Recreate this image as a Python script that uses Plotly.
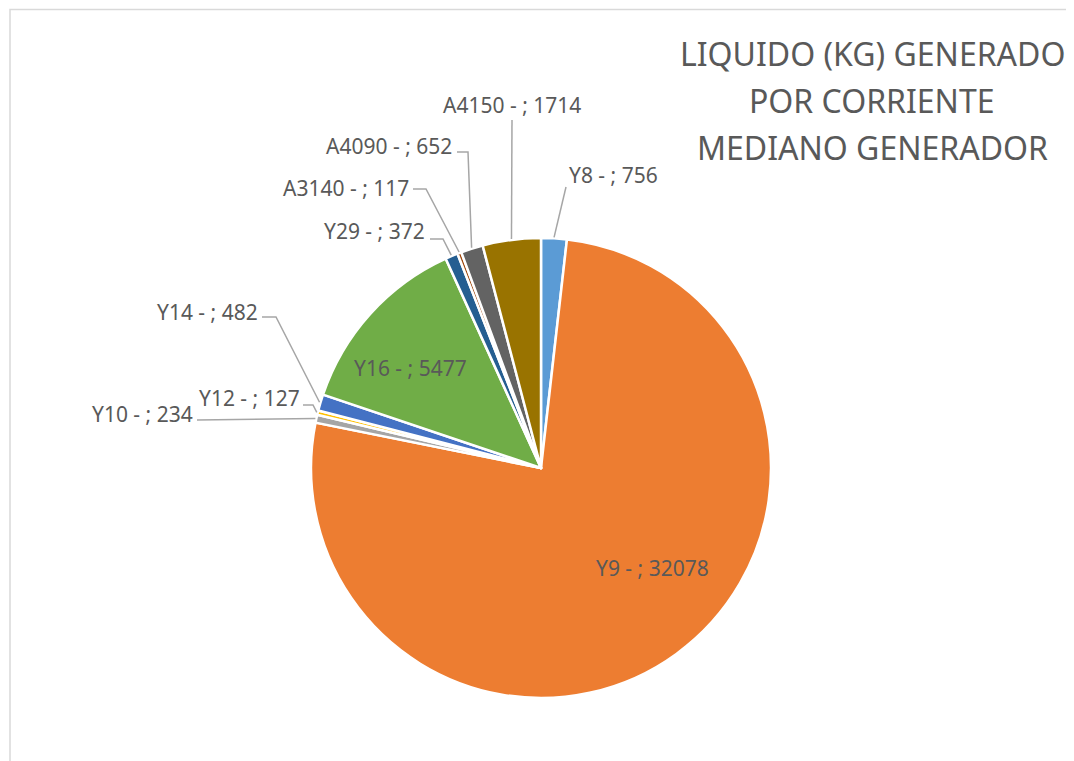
import math
import plotly.graph_objects as go

# ---- data ----
categories = ["Y8", "Y9", "Y10", "Y12", "Y14", "Y16", "Y29", "A3140", "A4090", "A4150"]
values = [756, 32078, 234, 127, 482, 5477, 372, 117, 652, 1714]
colors = ["#5B9BD5", "#ED7D31", "#A5A5A5", "#FFC000", "#4472C4",
          "#70AD47", "#255E91", "#9E480E", "#636363", "#997300"]
title_lines = ["LIQUIDO (KG) GENERADO", "POR CORRIENTE", "MEDIANO GENERADOR"]

# ---- layout (pixel, in screenshot coordinates) ----
W, H = 1074, 761
OFF = 8  # page body margin
CX, CY, R = 541, 468, 230
TXT = "#595959"
LINE = "#A6A6A6"
FONT = "Noto Sans"

def px(x):
    return (x - OFF) / W

def py(y):
    return 1 - (y - OFF) / H

# label placement: (x, y, xanchor, elbow points before slice edge) ; None -> inside label
label_layout = {
    "Y8":    dict(x=567, y=175, xa="left",   pts=[(566, 187)]),
    "Y9":    dict(x=652, y=568, xa="center", pts=None),
    "Y10":   dict(x=195, y=414, xa="right",  pts=[(197, 420)]),
    "Y12":   dict(x=302, y=398, xa="right",  pts=[(303, 405), (313, 405)]),
    "Y14":   dict(x=260, y=312, xa="right",  pts=[(262, 317), (276, 317)]),
    "Y16":   dict(x=410, y=368, xa="center", pts=None),
    "Y29":   dict(x=427, y=231, xa="right",  pts=[(430, 239), (443, 239)]),
    "A3140": dict(x=411, y=188, xa="right",  pts=[(413, 189), (426, 189)]),
    "A4090": dict(x=454, y=146, xa="right",  pts=[(457, 152), (468, 152)]),
    "A4150": dict(x=512, y=105, xa="center", pts=[(512, 120)]),
}

fig = go.Figure(go.Pie(
    labels=categories,
    values=values,
    marker=dict(colors=colors, line=dict(color="white", width=2.5)),
    sort=False,
    direction="clockwise",
    rotation=0,
    textinfo="none",
    showlegend=False,
    hoverinfo="label+value",
    domain=dict(x=[px(CX - R), px(CX + R)], y=[py(CY + R), py(CY - R)]),
))

annotations = []
shapes = []
total = sum(values)
cum = 0
for cat, val in zip(categories, values):
    mid = (cum + val / 2) / total * 2 * math.pi
    cum += val
    lay = label_layout[cat]
    annotations.append(dict(
        x=px(lay["x"]), y=py(lay["y"]), xref="paper", yref="paper",
        text=f"{cat} - ; {val}", showarrow=False,
        xanchor=lay["xa"], yanchor="middle",
        font=dict(family=FONT, size=21, color=TXT),
    ))
    if lay["pts"]:
        ex = CX + (R + 1) * math.sin(mid)
        ey = CY - (R + 1) * math.cos(mid)
        pts = lay["pts"] + [(ex, ey)]
        path = "M " + " L ".join(f"{px(x):.5f},{py(y):.5f}" for x, y in pts)
        shapes.append(dict(type="path", xref="paper", yref="paper", path=path,
                           line=dict(color=LINE, width=1.5)))

# title
for i, t in enumerate(title_lines):
    annotations.append(dict(
        x=px(872), y=py(54 + 47 * i), xref="paper", yref="paper",
        text=t, showarrow=False, xanchor="center", yanchor="middle",
        font=dict(family=FONT, size=32, color=TXT),
    ))

# chart border
shapes.append(dict(type="rect", xref="paper", yref="paper",
                   x0=px(10), x1=px(1072), y0=py(820), y1=py(9.5),
                   line=dict(color="#D9D9D9", width=1.5), fillcolor="rgba(0,0,0,0)"))

fig.update_layout(
    width=W, height=H,
    margin=dict(l=0, r=0, t=0, b=0),
    paper_bgcolor="white",
    plot_bgcolor="white",
    annotations=annotations,
    shapes=shapes,
)

fig.write_html("out.html")
